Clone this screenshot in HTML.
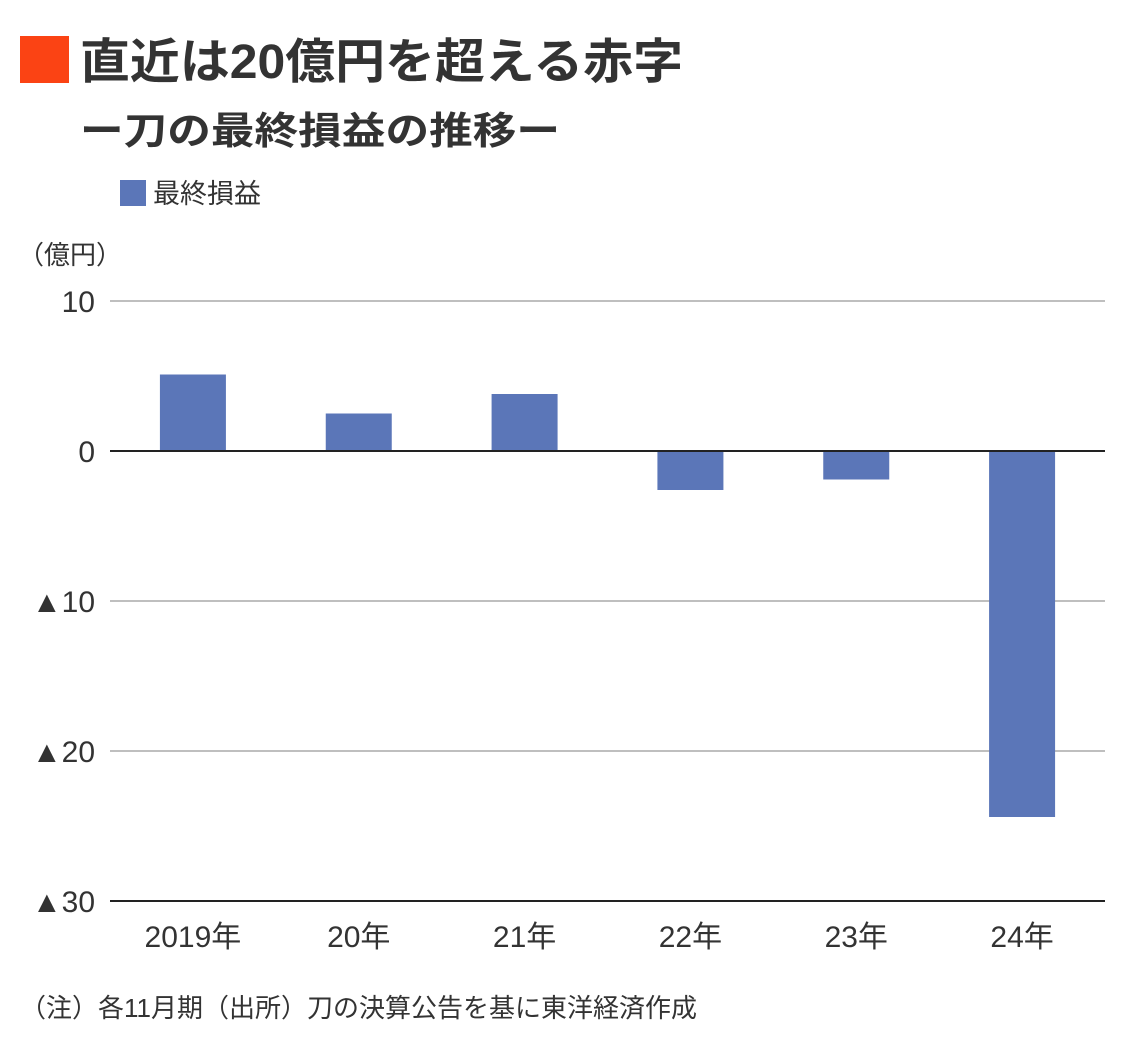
<!DOCTYPE html>
<html><head><meta charset="utf-8"><style>
body{margin:0;background:#fff;}
svg{display:block;font-family:"Liberation Sans","Noto Sans CJK JP",sans-serif;}
</style></head><body>
<svg width="1140" height="1049" viewBox="0 0 1140 1049">
<rect x="20" y="36" width="49" height="47" fill="#fb4314"/>
<text x="80" y="78" font-size="48" font-weight="bold" fill="#333" textLength="603" lengthAdjust="spacingAndGlyphs">直近は20億円を超える赤字</text>
<text x="80" y="144" font-size="38" font-weight="bold" fill="#333" textLength="480" lengthAdjust="spacingAndGlyphs">ー刀の最終損益の推移ー</text>
<rect x="120" y="180" width="26" height="26" fill="#5b76b8"/>
<text x="153" y="203" font-size="27" fill="#333">最終損益</text>
<text x="18" y="264" font-size="26" fill="#333">（億円）</text>
<g id="grid"></g><g id="bars"></g><g id="xlabels"></g>
<text x="20" y="1017" font-size="26" fill="#333">（注）各11月期（出所）刀の決算公告を基に東洋経済作成</text>
</svg>
<script>
const categories=["2019年","20年","21年","22年","23年","24年"];
const values=[5.1,2.5,3.8,-2.6,-1.9,-24.4];
const ticks=[10,0,-10,-20,-30];
const tickLabels=["10","0","▲10","▲20","▲30"];
const NS="http://www.w3.org/2000/svg";
const x0=110,x1=1105,yTop=301,yMax=10,yMin=-30,yBot=901;
const y=v=>yTop+(yMax-v)*(yBot-yTop)/(yMax-yMin);
const band=(x1-x0)/categories.length;
const g=document.getElementById("grid"),b=document.getElementById("bars"),xl=document.getElementById("xlabels");
ticks.forEach((t,i)=>{
 const l=document.createElementNS(NS,"line");
 l.setAttribute("x1",x0);l.setAttribute("x2",x1);l.setAttribute("y1",y(t));l.setAttribute("y2",y(t));
 l.setAttribute("stroke",t===0||t===yMin?"#222":"#999");l.setAttribute("stroke-width",t===0||t===yMin?2:1.2);
 
 
 g.appendChild(l);
 const tx=document.createElementNS(NS,"text");
 tx.setAttribute("x",95);tx.setAttribute("y",y(t)+11);tx.setAttribute("text-anchor","end");
 tx.setAttribute("font-size","30");tx.setAttribute("fill","#333");tx.textContent=tickLabels[i];
 
 
 g.appendChild(tx);
});
categories.forEach((c,i)=>{
 const cx=x0+band*(i+0.5),v=values[i];
 const r=document.createElementNS(NS,"rect");
 r.setAttribute("x",cx-33);r.setAttribute("width",66);
 r.setAttribute("y",Math.min(y(v),y(0)));r.setAttribute("height",Math.abs(y(v)-y(0)));
 r.setAttribute("fill","#5b76b8");
 
 
 b.appendChild(r);
 const tx=document.createElementNS(NS,"text");
 tx.setAttribute("x",cx);tx.setAttribute("y",947);tx.setAttribute("text-anchor","middle");
 tx.setAttribute("font-size","30");tx.setAttribute("fill","#333");tx.textContent=c;
 
 
 xl.appendChild(tx);
});
const zl=g.querySelectorAll("line")[1];g.parentNode.appendChild(zl);
</script>
</body></html>
